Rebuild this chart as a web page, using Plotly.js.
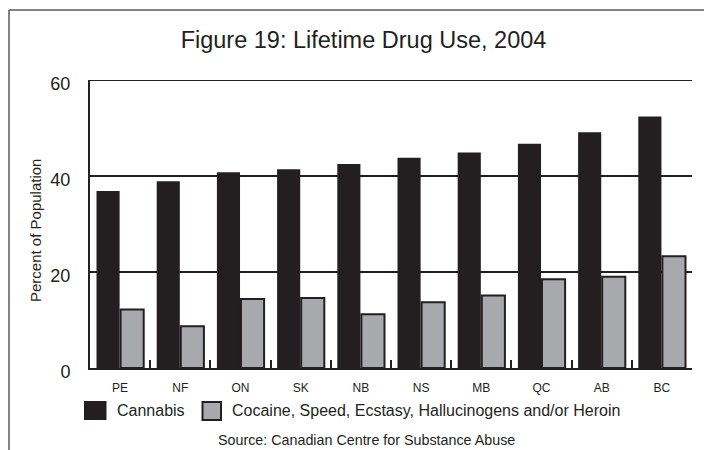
<!DOCTYPE html>
<html>
<head>
<meta charset="utf-8">
<script src="https://cdn.plot.ly/plotly-3.0.1.min.js"></script>
<style>
  html, body { margin: 0; padding: 0; background: #ffffff; }
  #chart { width: 704px; height: 450px; }
</style>
</head>
<body>
<div id="chart"></div>
<script>
// Lifetime drug use by province, 2004 (percent of population)
var provinces = ['PE', 'NF', 'ON', 'SK', 'NB', 'NS', 'MB', 'QC', 'AB', 'BC'];
var cannabis = [36.9, 38.9, 40.8, 41.4, 42.5, 43.8, 44.9, 46.7, 49.1, 52.4];
var otherDrugs = [12.2, 8.7, 14.4, 14.6, 11.2, 13.7, 15.1, 18.5, 19.0, 23.3];
var seriesNames = ['Cannabis', 'Cocaine, Speed, Ecstasy, Hallucinogens and/or Heroin'];
var yTicks = [0, 20, 40, 60];
var titleText = 'Figure 19: Lifetime Drug Use, 2004';
var yTitleText = 'Percent of Population';
var sourceText = 'Source: Canadian Centre for Substance Abuse';

var INK = '#231f20';
var GREY = '#a7a9ac';
var FONT = 'Liberation Sans, Arial, sans-serif';

var W = 704, H = 450;
var M = { l: 90, r: 12, t: 80, b: 82 };
var PW = W - M.l - M.r, PH = H - M.t - M.b;
// pixel -> paper helpers for decorations outside the plot area
function px(x) { return (x - M.l) / PW; }
function py(y) { return (H - M.b - y) / PH; }

var traces = [
  {
    type: 'bar', name: seriesNames[0], x: provinces, y: cannabis,
    marker: { color: INK, line: { color: INK, width: 0 } },
    showlegend: false, hoverinfo: 'x+y'
  },
  {
    type: 'bar', name: seriesNames[1], x: provinces, y: otherDrugs,
    marker: { color: GREY, line: { color: INK, width: 2 } },
    showlegend: false, hoverinfo: 'x+y'
  }
];

var shapes = [
  // top gridline at the axis maximum
  { type: 'line', xref: 'paper', yref: 'y', x0: 0, x1: 1, y0: yTicks[yTicks.length - 1], y1: yTicks[yTicks.length - 1],
    line: { color: INK, width: 2 } },
  // outer frame
  { type: 'line', xref: 'paper', yref: 'paper', x0: px(9), x1: px(704), y0: py(10), y1: py(10),
    line: { color: '#5a5a5a', width: 1.5 } },
  { type: 'line', xref: 'paper', yref: 'paper', x0: px(9), x1: px(9), y0: py(10), y1: py(450),
    line: { color: '#5a5a5a', width: 1.5 } },
  // legend keys
  { type: 'rect', xref: 'paper', yref: 'paper', x0: px(84), x1: px(106.5), y0: py(420), y1: py(401),
    fillcolor: INK, line: { color: INK, width: 0 } },
  { type: 'rect', xref: 'paper', yref: 'paper', x0: px(202.5), x1: px(221), y0: py(420), y1: py(402),
    fillcolor: GREY, line: { color: INK, width: 2 } }
];

var annotations = [
  { xref: 'paper', yref: 'paper', x: px(35), y: py(231), xanchor: 'center', yanchor: 'middle',
    text: yTitleText, textangle: -90, showarrow: false, font: { family: FONT, size: 15, color: INK } },
  { xref: 'paper', yref: 'paper', x: px(115), y: py(410.5), xanchor: 'left', yanchor: 'middle',
    text: seriesNames[0], showarrow: false, font: { family: FONT, size: 16, color: INK } },
  { xref: 'paper', yref: 'paper', x: px(230), y: py(410.5), xanchor: 'left', yanchor: 'middle',
    text: seriesNames[1], showarrow: false, font: { family: FONT, size: 16, color: INK } },
  { xref: 'paper', yref: 'paper', x: px(366.7), y: py(439.5), xanchor: 'center', yanchor: 'middle',
    text: sourceText, showarrow: false, font: { family: FONT, size: 14.3, color: INK } }
];

var layout = {
  width: W, height: H,
  margin: M,
  paper_bgcolor: '#ffffff', plot_bgcolor: '#ffffff',
  font: { family: FONT, color: INK },
  title: {
    text: titleText, font: { family: FONT, size: 23.5, color: INK },
    x: px(363.5), xanchor: 'center', xref: 'paper',
    y: 1 - 40 / H, yanchor: 'middle', yref: 'container'
  },
  barmode: 'group', bargap: 0.2, bargroupgap: 0.04,
  showlegend: false,
  xaxis: {
    type: 'category', categoryarray: provinces,
    showline: true, linecolor: INK, linewidth: 2,
    ticks: 'inside', tickson: 'boundaries', ticklen: 8, tickwidth: 2, tickcolor: INK,
    tickfont: { family: FONT, size: 12, color: INK },
    ticklabelstandoff: 8,
    showgrid: false, zeroline: false, fixedrange: true
  },
  yaxis: {
    range: [0, 60], tickvals: yTicks, ticktext: yTicks.map(String),
    showline: true, linecolor: INK, linewidth: 2,
    showgrid: true, gridcolor: INK, gridwidth: 2,
    zeroline: false, ticks: '',
    tickfont: { family: FONT, size: 18, color: INK },
    ticklabelstandoff: 14, ticklabelshift: 4,
    fixedrange: true
  },
  shapes: shapes,
  annotations: annotations
};

Plotly.newPlot('chart', traces, layout, { displayModeBar: false, staticPlot: true });
</script>
</body>
</html>
